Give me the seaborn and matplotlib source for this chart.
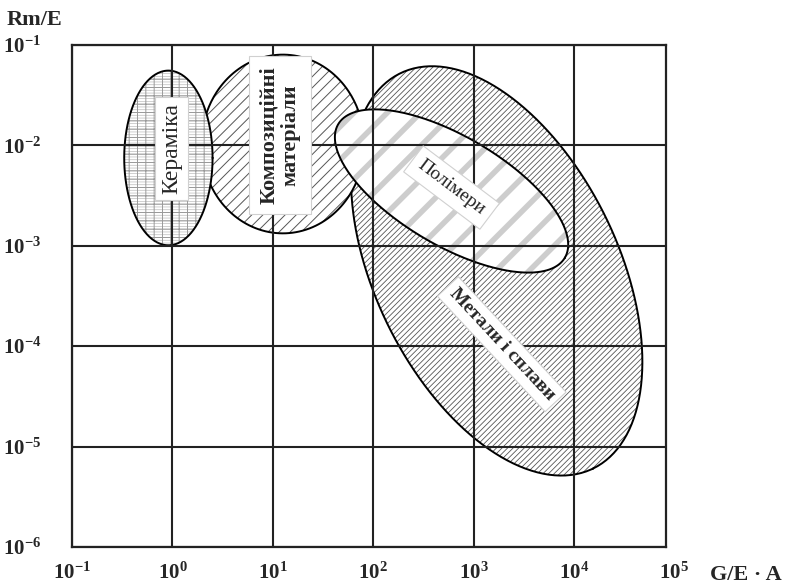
import numpy as np
import pandas as pd
import seaborn as sns
import matplotlib.pyplot as plt

# material regions, given in decades (log10) of G/E*A and Rm/E
names = ["Кераміка", "Композиційні\nматеріали", "Метали і сплави", "Полімери"]
center_x = [-0.04, 1.10, 3.23, 2.78]
center_y = [-2.125, -1.986, -3.25, -2.454]
semi_a = [0.44, 0.81, 2.19, 1.31]
semi_b = [0.87, 0.89, 1.21, 0.543]
angles = [0, 0, -64, -30.5]

# label placement (decades) and rotation
label_x = [-0.01, 1.07, 3.28, 2.78]
label_y = [-2.03, -1.90, -3.98, -2.42]
label_rot = [90, 90, -47, -37]

x_ticks = [-1, 0, 1, 2, 3, 4, 5]
y_ticks = [-6, -5, -4, -3, -2, -1]

sns.set_style("white")
plt.rcParams["font.family"] = ["Liberation Serif", "DejaVu Serif"]
plt.rcParams["mathtext.fontset"] = "custom"
plt.rcParams["mathtext.rm"] = "Liberation Serif:bold"
plt.rcParams["mathtext.bf"] = "Liberation Serif:bold"
plt.rcParams["mathtext.it"] = "Liberation Serif:bold"


def outline(i, n=300):
    t = np.linspace(0, 2 * np.pi, n)
    th = np.deg2rad(angles[i])
    x = center_x[i] + semi_a[i] * np.cos(t) * np.cos(th) - semi_b[i] * np.sin(t) * np.sin(th)
    y = center_y[i] + semi_a[i] * np.cos(t) * np.sin(th) + semi_b[i] * np.sin(t) * np.cos(th)
    return pd.DataFrame({"x": 10 ** x, "y": 10 ** y})


def hatched(ax, df, hatch, color, lw, z, face="white"):
    plt.rcParams["hatch.linewidth"] = lw
    p = ax.fill(df["x"], df["y"], facecolor=face, edgecolor=color,
                linewidth=0, hatch=hatch, zorder=z)[0]
    if hasattr(p, "set_hatch_linewidth"):
        p.set_hatch_linewidth(lw)
    return p


fig = plt.figure(figsize=(7.95, 5.88), dpi=100)
ax = fig.add_axes([72 / 795, 41 / 588, 594 / 795, 502 / 588])
ax.set_xscale("log")
ax.set_yscale("log")

# metals
df = outline(2)
hatched(ax, df, "//////", "#555555", 0.6, 1.0)
sns.lineplot(data=df, x="x", y="y", sort=False, estimator=None, color="black", lw=1.4, ax=ax, zorder=1.1)
# composites
df = outline(1)
hatched(ax, df, "///", "#555555", 0.7, 1.2)
sns.lineplot(data=df, x="x", y="y", sort=False, estimator=None, color="black", lw=1.4, ax=ax, zorder=1.3)
# ceramics
df = outline(0)
hatched(ax, df, "------", "#bdbdbd", 0.5, 1.4)
hatched(ax, df, "++", "#9a9a9a", 0.7, 1.45, face="none")
sns.lineplot(data=df, x="x", y="y", sort=False, estimator=None, color="black", lw=1.4, ax=ax, zorder=1.5)
# polymers
df = outline(3)
hatched(ax, df, "/", "#cdcdcd", 4.0, 1.6)
sns.lineplot(data=df, x="x", y="y", sort=False, estimator=None, color="black", lw=1.4, ax=ax, zorder=1.7)

ax.set_xlim(10 ** -1, 10 ** 4.916)
ax.set_ylim(10 ** -6, 10 ** -1)
ax.set_xticks([10.0 ** k for k in x_ticks[:-1]])
ax.set_yticks([10.0 ** k for k in y_ticks])
ax.set_xticklabels([r"$\mathbf{10^{%d}}$" % k for k in x_ticks[:-1]], fontsize=15)
ax.set_yticklabels([r"$\mathbf{10^{%d}}$" % k for k in y_ticks], fontsize=15)
ax.minorticks_off()
ax.tick_params(axis="x", length=0, pad=11)
ax.tick_params(axis="y", length=0, pad=22)
ax.set_xlabel("")
ax.set_ylabel("")
ax.text(10.0 ** x_ticks[-1], -0.032, r"$\mathbf{10^{%d}}$" % x_ticks[-1], fontsize=15,
        transform=ax.get_xaxis_transform(), ha="center", va="top", clip_on=False)

ax.set_axisbelow(False)
ax.grid(True, which="major", color="#222222", lw=1.5)
for s in ax.spines.values():
    s.set_color("#222222")
    s.set_linewidth(1.6)

styles = [("normal", 17, 0.25), ("bold", 16, 0.45), ("bold", 14, 0.3), ("normal", 14, 0.4)]
for i, name in enumerate(names):
    w, fs, pad = styles[i]
    ax.text(10 ** label_x[i], 10 ** label_y[i], name, rotation=label_rot[i],
            rotation_mode="anchor", ha="center", va="center", fontsize=fs,
            fontweight=w, linespacing=1.1, zorder=5,
            bbox=dict(boxstyle="square,pad=%s" % pad, fc="white", ec="#d0d0d0", lw=0.8))

fig.text(7 / 795, 1 - 20 / 588, "Rm/E", fontsize=16, fontweight="bold", ha="left", va="center")
fig.text(710 / 795, 1 - 575 / 588, "G/E · A", fontsize=16, fontweight="bold", ha="left", va="center")

fig.savefig("out.png", dpi=100)
